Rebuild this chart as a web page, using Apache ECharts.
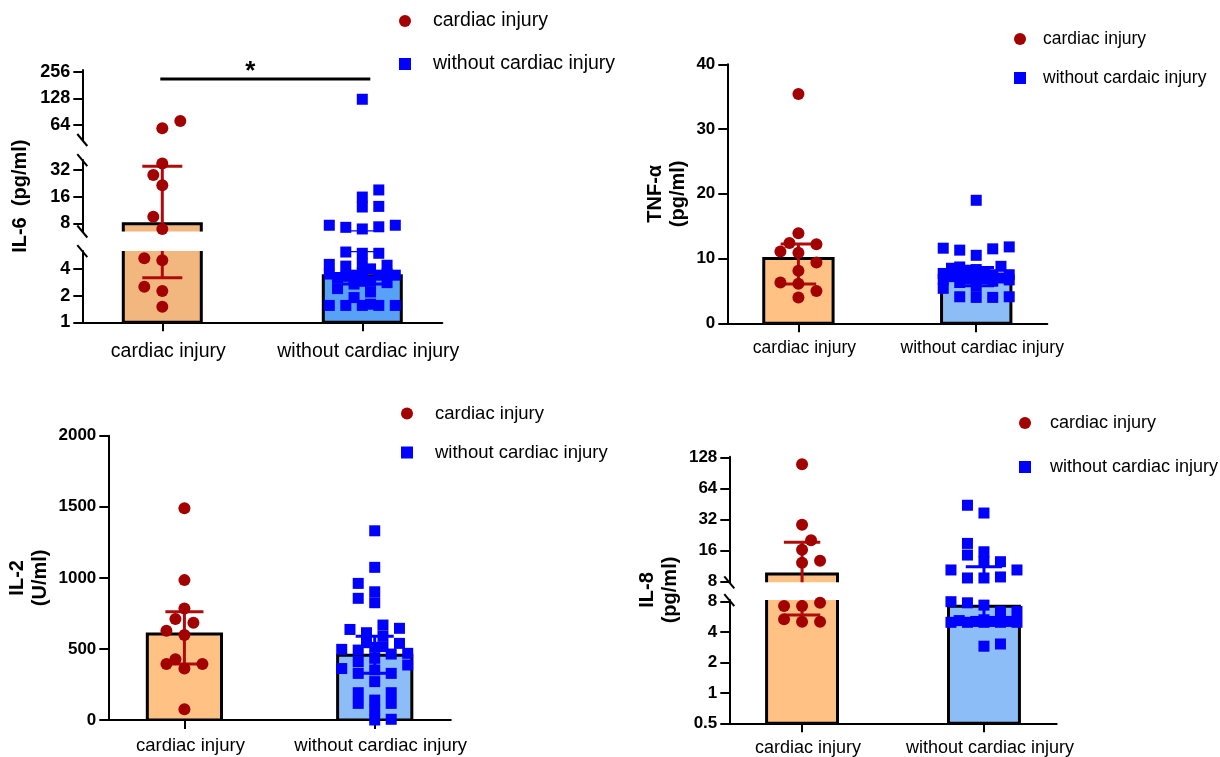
<!DOCTYPE html>
<html><head><meta charset="utf-8">
<script src="https://cdn.jsdelivr.net/npm/echarts@6/dist/echarts.min.js"></script>
<style>html,body{margin:0;padding:0;background:#fff}#c{width:1220px;height:757px}</style>
</head><body><div id="c"></div>
<script>
// ---------------- data ----------------
const categories = ['cardiac injury', 'without cardiac injury'];
const legendCardiac = 'cardiac injury';
const legendWithout = 'without cardiac injury';
const legendWithoutTnf = 'without cardaic injury';

// IL-6 (pg/ml), broken log2 axis
const il6Name = 'IL-6  (pg/ml)';
const il6Ticks = [[1, 2, 4], [8, 16, 32], [64, 128, 256]];
const il6Cardiac = [71, 59, 37.8, 28, 21.5, 9.5, 6.9, 5.27, 5.0, 2.52, 2.25, 1.5];
const il6Without = [125, 19, 15.8, 12.4, 12.2, 7.6, 7.6, 7.3, 7.2, 6.9, 6.2, 6.0, 6.0, 4.6, 4.5, 4.4, 4.3, 4.0,
  3.6, 3.5, 3.5, 3.4, 3.4, 3.4, 3.3, 3.2, 2.9, 2.9, 2.8, 2.7, 2.4, 2.2, 1.9, 1.6, 1.55, 1.55, 1.55, 1.55, 1.55];
const il6Median = [7.9, 3.35];
const il6Low = [3.18, 2.7];
const il6High = [35.2, 6.4];
const il6Sig = [-0.01, 1.04, 211, 0.44];   // from, to, level, star position
const il6SigMark = '*';

// TNF-α (pg/ml)
const tnfName = 'TNF-α\n(pg/ml)';
const tnfTicks = [0, 10, 20, 30, 40];
const tnfCardiac = [35.4, 13.9, 12.4, 12.2, 11.1, 10.9, 9.4, 8.1, 6.3, 6.1, 5.0, 4.0];
const tnfWithout = [19.0, 11.8, 11.6, 11.5, 11.3, 10.5, 8.8, 8.7, 8.5, 8.3, 8.2, 7.8, 7.7, 7.5, 7.5, 7.3, 7.2,
  7.0, 7.0, 6.9, 6.9, 6.8, 6.7, 6.5, 6.3, 5.7, 5.4, 4.1, 4.0, 4.0, 4.1];
const tnfMedian = [10.0, 7.2];
const tnfLow = [6.07, 5.8];
const tnfHigh = [12.26, 8.6];

// IL-2 (U/ml)
const il2Name = 'IL-2\n(U/ml)';
const il2Ticks = [0, 500, 1000, 1500, 2000];
const il2Cardiac = [1489, 984, 785, 710, 684, 628, 598, 427, 394, 394, 363, 75];
const il2Without = [1331, 1074, 961, 902, 856, 825, 668, 645, 637, 614, 591, 544, 539, 516, 511, 497, 492, 469,
  464, 434, 410, 387, 362, 352, 328, 328, 270, 192, 192, 140, 117, 117, 70, 5, 0];
const il2Median = [605, 455];
const il2Low = [394, 328];
const il2High = [762, 590];

// IL-8 (pg/ml), broken log2 axis
const il8Name = 'IL-8\n(pg/ml)';
const il8Ticks = [[0.5, 1, 2, 4, 8], [8, 16, 32, 64, 128]];
const il8Cardiac = [110, 28.5, 20.2, 16.3, 12.8, 12.2, 7.8, 7.26, 7.26, 5.35, 5.07, 5.07];
const il8Without = [44, 37, 18.8, 15.6, 14.5, 12.5, 12.5, 10.4, 10.4, 8.9, 8.7, 8.7, 8.0, 7.8, 7.4, 6.4, 6.4,
  5.3, 5.2, 5.1, 5.1, 5.1, 5.0, 5.0, 5.0, 5.0, 5.0, 3.05, 2.9];
const il8Median = [9.5, 7.2];
const il8Low = [5.9, 5.0];
const il8High = [19.3, 11.2];

// ---------------- style / layout ----------------
const FONT = "'Liberation Sans', Arial, Helvetica, sans-serif";
const RED = '#A30000', RED_ERR = '#AE0C0C', BLUE = '#0000FF';
const BAR_W = 0.39, CAP_W = 0.2, DOT = 12, SQ = 11;

const panels = [
  { left: 82.3, unit: 200, log: true,
    segs: [{min: 1, max: 6.36, bottom: 322.3, ppl: 26.7, ticks: il6Ticks[0]},
           {min: 6.46, max: 41.3, bottom: 231.5, ppl: 26.7, ticks: il6Ticks[1]},
           {min: 43.4, max: 267, bottom: 140, ppl: 26.7, ticks: il6Ticks[2]}],
    name: il6Name, nameGap: 50, textSize: 19.5, tickSize: 18, catMargin: 19,
    cardiac: il6Cardiac, without: il6Without, median: il6Median, low: il6Low, high: il6High,
    barColors: ['#F2B77F', '#57A1F6'], withoutName: legendWithout,
    legend: {left: 394, top: 6, gap: 23, pad: 17}, sig: il6Sig },
  { left: 727.3, unit: 177.8, log: false,
    segs: [{min: 0, max: 40, bottom: 323.3, top: 64.3, ticks: tnfTicks}],
    name: tnfName, nameGap: 37, textSize: 17.5, tickSize: 17, catMargin: 16,
    cardiac: tnfCardiac, without: tnfWithout, median: tnfMedian, low: tnfLow, high: tnfHigh,
    barColors: ['#FFC184', '#8DBDF6'], withoutName: legendWithoutTnf,
    legend: {left: 1009, top: 25, gap: 21, pad: 12} },
  { left: 108.3, unit: 190.3, log: false,
    segs: [{min: 0, max: 2000, bottom: 720, top: 435.7, ticks: il2Ticks}],
    name: il2Name, nameGap: 56, textSize: 18.5, tickSize: 17, catMargin: 16,
    cardiac: il2Cardiac, without: il2Without, median: il2Median, low: il2Low, high: il2High,
    barColors: ['#FFC184', '#8DBDF6'], withoutName: legendWithout,
    legend: {left: 396, top: 399, gap: 20, pad: 17} },
  { left: 729.3, unit: 181.9, log: true,
    segs: [{min: 0.5, max: 8.3, bottom: 723.3, ppl: 30.4, ticks: il8Ticks[0]},
           {min: 7.9, max: 130, bottom: 582.3, ppl: 31.1, ticks: il8Ticks[1]}],
    name: il8Name, nameGap: 47, textSize: 18, tickSize: 17, catMargin: 16,
    cardiac: il8Cardiac, without: il8Without, median: il8Median, low: il8Low, high: il8High,
    barColors: ['#FFC184', '#8DBDF6'], withoutName: legendWithout,
    legend: {left: 1014, top: 409, gap: 26, pad: 14} }
];

// simple beeswarm: horizontal offsets (px) so that symbols do not pile up
function swarm(ys, size, square, maxHalf) {
  const order = ys.map((_, i) => i).sort((a, b) => ys[b] - ys[a]);
  const placed = [], off = ys.map(() => 0);
  const step = size * 0.75, minD = square ? size * 0.9 : size * 1.05;
  order.forEach((i, n) => {
    let pick = null, alt = 0, altD = -1;
    const cands = [0];
    const sgn = (n % 2) ? 1 : -1;
    for (let k = 1; k * step <= maxHalf; k++) cands.push(sgn * k * step, -sgn * k * step);
    for (const dx of cands) {
      let near = Infinity;
      for (const q of placed) {
        const ddx = Math.abs(q.x - dx), ddy = Math.abs(q.y - ys[i]);
        const d = square ? Math.max(ddx, ddy) : Math.hypot(ddx, ddy);
        if (d < near) near = d;
      }
      if (near >= minD) { pick = dx; break; }
      if (near > altD) { altD = near; alt = dx; }
    }
    off[i] = pick === null ? alt : pick;
    placed.push({x: off[i], y: ys[i]});
  });
  return off;
}

function barRender(colors) {
  return function (params, api) {
    const i = params.dataIndex;
    const x = api.value(0), v = api.value(1), b = api.value(2);
    const a = api.coord([x - BAR_W / 2, v]);
    const c = api.coord([x + BAR_W / 2, b]);
    return { type: 'rect', shape: {x: a[0], y: a[1], width: c[0] - a[0], height: c[1] - a[1]},
      style: {fill: colors[i], stroke: '#000', lineWidth: 3} };
  };
}
function errRender(colors) {
  return function (params, api) {
    const i = params.dataIndex;
    const x = api.value(0), lo = api.value(1), hi = api.value(2);
    const pl = api.coord([x, lo]), ph = api.coord([x, hi]);
    const l0 = api.coord([x - CAP_W / 2, lo]), l1 = api.coord([x + CAP_W / 2, lo]);
    const st = {stroke: colors[i], lineWidth: 3, fill: null};
    return { type: 'group', children: [
      {type: 'line', shape: {x1: pl[0], y1: pl[1], x2: ph[0], y2: ph[1]}, style: st},
      {type: 'line', shape: {x1: l0[0], y1: pl[1], x2: l1[0], y2: pl[1]}, style: st},
      {type: 'line', shape: {x1: l0[0], y1: ph[1], x2: l1[0], y2: ph[1]}, style: st}] };
  };
}
function sigRender(params, api) {
  const a = api.coord([api.value(0), api.value(2)]);
  const b = api.coord([api.value(1), api.value(2)]);
  const s = api.coord([api.value(3), api.value(2)]);
  return { type: 'group', children: [
    {type: 'line', shape: {x1: a[0], y1: a[1], x2: b[0], y2: b[1]}, style: {stroke: '#000', lineWidth: 3}},
    {type: 'text', x: s[0], y: a[1] - 7, style: {text: il6SigMark, fill: '#000',
      font: 'bold 26px ' + FONT, align: 'center', verticalAlign: 'middle'}}] };
}

const fmt = v => (v >= 1 ? String(Math.round(v)) : String(v));
const option = { animation: false, backgroundColor: '#fff', textStyle: {fontFamily: FONT},
  grid: [], xAxis: [], yAxis: [], series: [], legend: [], graphic: [] };

panels.forEach(p => {
  const width = 1.8 * p.unit;
  p.segs.forEach(s => {
    if (p.log) s.top = s.bottom - (Math.log2(s.max) - Math.log2(s.min)) * s.ppl;
    else s.ppl = (s.bottom - s.top) / (s.max - s.min);
  });
  const segOf = v => { for (let k = 0; k < p.segs.length; k++) if (v <= p.segs[k].max) return k; return p.segs.length - 1; };
  const pix = v => { const s = p.segs[segOf(v)];
    return p.log ? s.bottom - (Math.log2(v) - Math.log2(s.min)) * s.ppl : s.bottom - (v - s.min) * s.ppl; };
  const dotOff = swarm(p.cardiac.map(pix), DOT, false, 30);
  const sqOff = swarm(p.without.map(pix), SQ, true, BAR_W * p.unit / 2 + 2);
  const single = p.segs.length === 1;

  p.segs.forEach((s, k) => {
    const gi = option.grid.length;
    const isBottom = k === 0;
    option.grid.push({left: p.left, width: width, top: s.top, height: s.bottom - s.top,
      containLabel: false, outerBoundsMode: 'none'});
    option.xAxis.push({ gridIndex: gi, type: 'value', min: -0.4, max: 1.4, show: isBottom,
      axisLine: {show: true, onZero: false, lineStyle: {color: '#000', width: 2}},
      axisTick: {show: true, customValues: [0, 1], length: 9, lineStyle: {color: '#000', width: 2}},
      axisLabel: {show: true, customValues: [0, 1], formatter: v => categories[Math.round(v)],
        color: '#000', fontSize: p.textSize, margin: p.catMargin, fontFamily: FONT, padding: [0, 0, 0, 12]},
      splitLine: {show: false} });
    const y = { gridIndex: gi, min: s.min, max: s.max,
      axisLine: {show: true, onZero: false, lineStyle: {color: '#000', width: 2}},
      axisTick: {show: true, customValues: s.ticks, length: 9, lineStyle: {color: '#000', width: 2}},
      axisLabel: {show: true, customValues: s.ticks, formatter: fmt, color: '#000', fontSize: p.tickSize,
        fontWeight: 'bold', margin: 12, fontFamily: FONT},
      splitLine: {show: false} };
    if (p.log) { y.type = 'log'; y.logBase = 2; } else { y.type = 'value'; }
    if (single) Object.assign(y, { name: p.name, nameLocation: 'middle', nameRotate: 90, nameGap: p.nameGap,
      nameTextStyle: {fontSize: 20, fontWeight: 'bold', color: '#000', lineHeight: 23, fontFamily: FONT} });
    option.yAxis.push(y);

    const base = p.log ? (isBottom ? s.min : s.min / 2) : s.min;
    option.series.push({ type: 'custom', xAxisIndex: gi, yAxisIndex: gi, clip: true, z: 1, silent: true,
      renderItem: barRender(p.barColors),
      data: p.median.map((m, i) => [i, m, base]) });
    option.series.push({ type: 'custom', xAxisIndex: gi, yAxisIndex: gi, clip: true, z: 2, silent: true,
      renderItem: errRender([RED_ERR, BLUE]),
      data: p.median.map((m, i) => [i, p.low[i], p.high[i]]) });
    option.series.push({ type: 'scatter', name: legendCardiac, xAxisIndex: gi, yAxisIndex: gi, z: 3,
      symbol: 'circle', symbolSize: DOT, itemStyle: {color: RED, opacity: 1},
      data: p.cardiac.map((v, i) => ({v, i})).filter(o => segOf(o.v) === k)
        .map(o => ({value: [0, o.v], symbolOffset: [dotOff[o.i], 0]})) });
    option.series.push({ type: 'scatter', name: p.withoutName, xAxisIndex: gi, yAxisIndex: gi, z: 3,
      symbol: 'rect', symbolSize: SQ, itemStyle: {color: BLUE, opacity: 1},
      data: p.without.map((v, i) => ({v, i})).filter(o => segOf(o.v) === k)
        .map(o => ({value: [1, o.v], symbolOffset: [sqOff[o.i], 0]})) });
    if (p.sig && k === p.segs.length - 1) {
      option.series.push({ type: 'custom', xAxisIndex: gi, yAxisIndex: gi, clip: false, z: 4, silent: true,
        renderItem: sigRender, data: [p.sig] });
    }
    if (!single) {
      const mk = yy => ({ type: 'line', silent: true, z: 10,
        shape: {x1: p.left - 5, y1: yy - 6, x2: p.left + 5, y2: yy + 6}, style: {stroke: '#000', lineWidth: 2} });
      if (k > 0) option.graphic.push(mk(s.bottom));
      if (k < p.segs.length - 1) option.graphic.push(mk(s.top));
    }
  });

  if (!single) {
    const top = Math.min(...p.segs.map(s => s.top)), bottom = Math.max(...p.segs.map(s => s.bottom));
    const gi = option.grid.length;
    option.grid.push({left: p.left, width: width, top: top, height: bottom - top, containLabel: false, outerBoundsMode: 'none'});
    option.xAxis.push({gridIndex: gi, type: 'value', min: 0, max: 1, show: false});
    option.yAxis.push({gridIndex: gi, type: 'value', min: 0, max: 1, show: true,
      axisLine: {show: false}, axisTick: {show: false}, axisLabel: {show: false}, splitLine: {show: false},
      name: p.name, nameLocation: 'middle', nameRotate: 90, nameGap: p.nameGap,
      nameTextStyle: {fontSize: 20, fontWeight: 'bold', color: '#000', lineHeight: 23, fontFamily: FONT} });
  }

  option.legend.push({ left: p.legend.left, top: p.legend.top, orient: 'vertical', itemGap: p.legend.gap,
    itemWidth: 12, itemHeight: 12, selectedMode: false,
    textStyle: {fontSize: p.textSize, color: '#000', fontFamily: FONT, padding: [0, 0, 0, p.legend.pad]},
    data: [{name: legendCardiac, icon: 'circle'}, {name: p.withoutName, icon: 'rect'}] });
});

const chart = echarts.init(document.getElementById('c'), null, {renderer: 'canvas'});
chart.setOption(option);
</script>
</body></html>
